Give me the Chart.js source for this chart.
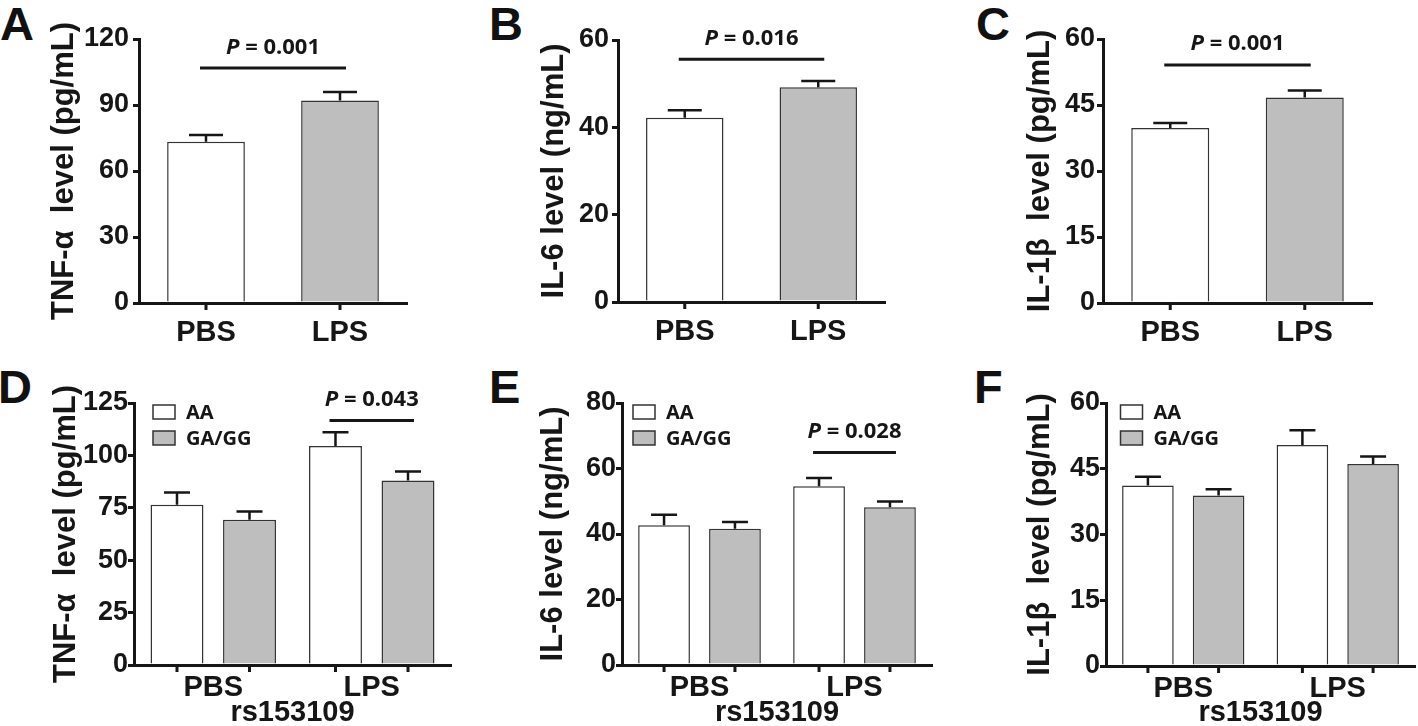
<!DOCTYPE html>
<html>
<head>
<meta charset="utf-8">
<script src="https://cdn.jsdelivr.net/npm/chart.js@4.4.0/dist/chart.umd.min.js"></script>
<style>
body{margin:0;background:#fff;width:1418px;height:726px;position:relative;overflow:hidden;font-family:"Liberation Sans",Arial,sans-serif}
canvas{position:absolute}
.letter{position:absolute;font-weight:bold;font-size:47px;line-height:1;color:#111}
</style>
</head>
<body>
<div class="letter" style="left:0px;top:0px">A</div>
<div class="letter" style="left:489px;top:0px">B</div>
<div class="letter" style="left:976px;top:0px">C</div>
<div class="letter" style="left:-2px;top:363px">D</div>
<div class="letter" style="left:489px;top:363px">E</div>
<div class="letter" style="left:974px;top:363px">F</div>

<canvas id="cA" width="470" height="360" style="left:0px;top:0px"></canvas>
<canvas id="cB" width="470" height="360" style="left:470px;top:0px"></canvas>
<canvas id="cC" width="478" height="360" style="left:940px;top:0px"></canvas>
<canvas id="cD" width="470" height="366" style="left:0px;top:360px"></canvas>
<canvas id="cE" width="470" height="366" style="left:470px;top:360px"></canvas>
<canvas id="cF" width="478" height="366" style="left:940px;top:360px"></canvas>

<script>
// categories and labels
const groups = ["PBS", "LPS"]
const genotypes = ["AA", "GA/GG"]
const xTitleText = "rs153109"
const yTitles = ["TNF-α  level (pg/mL)", "IL-6 level (ng/mL)", "IL-1β  level (pg/mL)",
                 "TNF-α  level (pg/mL)", "IL-6 level (ng/mL)", "IL-1β  level (pg/mL)"]
const yMax = [120, 60, 60, 125, 80, 60]
const yStep = [30, 20, 15, 25, 20, 15]

// top row: PBS vs LPS (mean, SEM)
const tnfMeans = [73.3, 92.0]
const tnfErr = [3.1, 3.9]
const il6Means = [42.2, 49.2]
const il6Err = [1.7, 1.4]
const il1Means = [39.8, 46.7]
const il1Err = [1.1, 1.6]

// bottom row: by rs153109 genotype
const tnfAA = [76.4, 104.5]
const tnfAAErr = [5.9, 6.6]
const tnfGA = [69.3, 88.0]
const tnfGAErr = [3.9, 4.3]
const il6AA = [42.7, 54.6]
const il6AAErr = [3.2, 2.5]
const il6GA = [41.6, 48.2]
const il6GAErr = [2.1, 1.7]
const il1AA = [41.2, 50.4]
const il1AAErr = [2.0, 3.4]
const il1GA = [38.9, 46.1]
const il1GAErr = [1.4, 1.7]

// significance bars
const pValues = ["0.001", "0.016", "0.001", "0.043", "0.028"]
const sigLevels = [106.8, 55.6, 54.1, 116.7, 64.9]

const ink = "#161616"
const white = "#ffffff"
const gray = "#bebebe"
const family = "'Liberation Sans', Arial, sans-serif"
const noteFamily = "'Noto Sans', 'Open Sans', sans-serif"

/* draws error bars, axis ticks under bars, p-value bar and legend */
const extras = {
id:"extras",
afterDatasetsDraw(chart, args, o){
const ctx = chart.ctx
const area = chart.chartArea
const y = chart.scales.y
const bars = chart.data.datasets.map((ds,i)=>chart.getDatasetMeta(i).data)
ctx.save()
ctx.strokeStyle = ink
ctx.fillStyle = ink

chart.data.datasets.forEach((ds,i)=>{
bars[i].forEach((bar,j)=>{
const top = y.getPixelForValue(ds.data[j] + ds.errors[j])
ctx.lineWidth = o.errWidth
ctx.beginPath()
ctx.moveTo(bar.x, bar.y)
ctx.lineTo(bar.x, top)
ctx.moveTo(bar.x - o.cap/2, top)
ctx.lineTo(bar.x + o.cap/2, top)
ctx.stroke()

ctx.lineWidth = 3
ctx.beginPath()
ctx.moveTo(bar.x, area.bottom)
ctx.lineTo(bar.x, area.bottom + 7)
ctx.stroke()
})
})

if(o.sig){
const a = bars[o.sig.from[0]][o.sig.from[1]]
const b = bars[o.sig.to[0]][o.sig.to[1]]
const ly = y.getPixelForValue(o.sig.level)
const x1 = a.x - 6
const x2 = b.x + 6
ctx.lineWidth = 3
ctx.beginPath()
ctx.moveTo(x1, ly)
ctx.lineTo(x2, ly)
ctx.stroke()

const italic = "italic bold 22px " + noteFamily
const bold = "bold 22px " + noteFamily
const rest = " = " + o.sig.text
ctx.font = italic
const w1 = ctx.measureText("P").width
ctx.font = bold
const w2 = ctx.measureText(rest).width
let tx = (x1 + x2)/2 - (w1 + w2)/2
ctx.textBaseline = "alphabetic"
ctx.textAlign = "left"
ctx.font = italic
ctx.fillText("P", tx, ly - 14.5)
ctx.font = bold
ctx.fillText(rest, tx + w1, ly - 14.5)
}

if(o.legend){
ctx.font = "bold 20px " + noteFamily
ctx.textBaseline = "alphabetic"
ctx.textAlign = "left"
chart.data.datasets.forEach((ds,i)=>{
const bx = area.left + o.legend.dx
const by = area.top + 2 + i*26
ctx.fillStyle = ds.backgroundColor
ctx.fillRect(bx, by, 22, 14)
ctx.lineWidth = 1.5
ctx.strokeStyle = "#333"
ctx.strokeRect(bx, by, 22, 14)
ctx.fillStyle = ink
ctx.fillText(ds.label, bx + 33, by + 7 + 7.2)
})
}

ctx.restore()
}
}

function makeChart(p){
const canvas = document.getElementById("c" + p.id)
const ca = p.area
const yWidth = ca[0] - p.left
const xHeight = p.top + p.h - ca[3]

return new Chart(canvas,{
type:"bar",
data:{
labels:groups,
datasets:p.datasets
},
options:{
responsive:false,
animation:false,
layout:{padding:{left:0, top:ca[1] - p.top, right:p.left + p.w - ca[2], bottom:0}},
datasets:{bar:{categoryPercentage:p.catPct, barPercentage:p.barPct, borderColor:"#333", borderWidth:1.5}},
plugins:{
legend:{display:false},
tooltip:{enabled:false},
extras:{cap:p.cap, errWidth:2.5, sig:p.sig, legend:p.legend}
},
scales:{
x:{
z:1,
grid:{display:false, drawTicks:false},
border:{color:ink, width:3},
ticks:{color:ink, padding:p.xPad, font:{family, size:29, weight:"bold", lineHeight:1}},
title:{display:!!p.xTitle, text:p.xTitle || "", color:ink, padding:{top:0, bottom:0},
font:{family, size:29, weight:"bold", lineHeight:0.9}},
afterFit(s){ s.height = xHeight }
},
y:{
z:1,
min:0,
max:p.yMax,
ticks:{stepSize:p.yStep, color:ink, padding:p.yPad, font:{family, size:27, weight:"bold"}},
grid:{drawOnChartArea:false, drawTicks:true, tickLength:6, color:ink, lineWidth:3},
border:{color:ink, width:3},
title:{display:true, text:p.yTitle, color:ink,
padding:{top:p.titleX - p.left - 15.5, bottom:0},
font:{family, size:31, weight:"bold", lineHeight:1}},
afterFit(s){ s.width = yWidth }
}
}
},
plugins:[extras]
})
}

const topRow = {top:0, h:360, catPct:1, barPct:0.58, cap:34, xPad:15, legend:null}
const bottomRow = {top:360, h:366, catPct:0.915, barPct:0.73, cap:26, xPad:8, xTitle:xTitleText, yPad:0}

makeChart(Object.assign({}, topRow, {
id:"A", left:0, w:470, area:[139,39,407,303], titleX:64, yPad:4,
yTitle:yTitles[0], yMax:yMax[0], yStep:yStep[0],
datasets:[{label:"", data:tnfMeans, errors:tnfErr, backgroundColor:[white, gray]}],
sig:{from:[0,0], to:[0,1], level:sigLevels[0], text:pValues[0]}
}))

makeChart(Object.assign({}, topRow, {
id:"B", left:470, w:470, area:[618,40,885,302], titleX:554, yPad:3,
yTitle:yTitles[1], yMax:yMax[1], yStep:yStep[1],
datasets:[{label:"", data:il6Means, errors:il6Err, backgroundColor:[white, gray]}],
sig:{from:[0,0], to:[0,1], level:sigLevels[1], text:pValues[1]}
}))

makeChart(Object.assign({}, topRow, {
id:"C", left:940, w:478, area:[1103,39,1372,303], titleX:1040, yPad:2,
yTitle:yTitles[2], yMax:yMax[2], yStep:yStep[2],
datasets:[{label:"", data:il1Means, errors:il1Err, backgroundColor:[white, gray]}],
sig:{from:[0,0], to:[0,1], level:sigLevels[2], text:pValues[2]}
}))

makeChart(Object.assign({}, bottomRow, {
id:"D", left:0, w:470, area:[134,403,451,665], titleX:66,
yTitle:yTitles[3], yMax:yMax[3], yStep:yStep[3],
datasets:[
{label:genotypes[0], data:tnfAA, errors:tnfAAErr, backgroundColor:white},
{label:genotypes[1], data:tnfGA, errors:tnfGAErr, backgroundColor:gray}
],
sig:{from:[0,1], to:[1,1], level:sigLevels[3], text:pValues[3]},
legend:{dx:19}
}))

makeChart(Object.assign({}, bottomRow, {
id:"E", left:470, w:470, area:[622,403,932,665], titleX:553.5,
yTitle:yTitles[4], yMax:yMax[4], yStep:yStep[4],
datasets:[
{label:genotypes[0], data:il6AA, errors:il6AAErr, backgroundColor:white},
{label:genotypes[1], data:il6GA, errors:il6GAErr, backgroundColor:gray}
],
sig:{from:[0,1], to:[1,1], level:sigLevels[4], text:pValues[4]},
legend:{dx:11}
}))

makeChart(Object.assign({}, bottomRow, {
id:"F", left:940, w:478, area:[1106,403,1415,666], titleX:1040,
yTitle:yTitles[5], yMax:yMax[5], yStep:yStep[5],
datasets:[
{label:genotypes[0], data:il1AA, errors:il1AAErr, backgroundColor:white},
{label:genotypes[1], data:il1GA, errors:il1GAErr, backgroundColor:gray}
],
sig:null,
legend:{dx:14.5}
}))
</script>
</body>
</html>
